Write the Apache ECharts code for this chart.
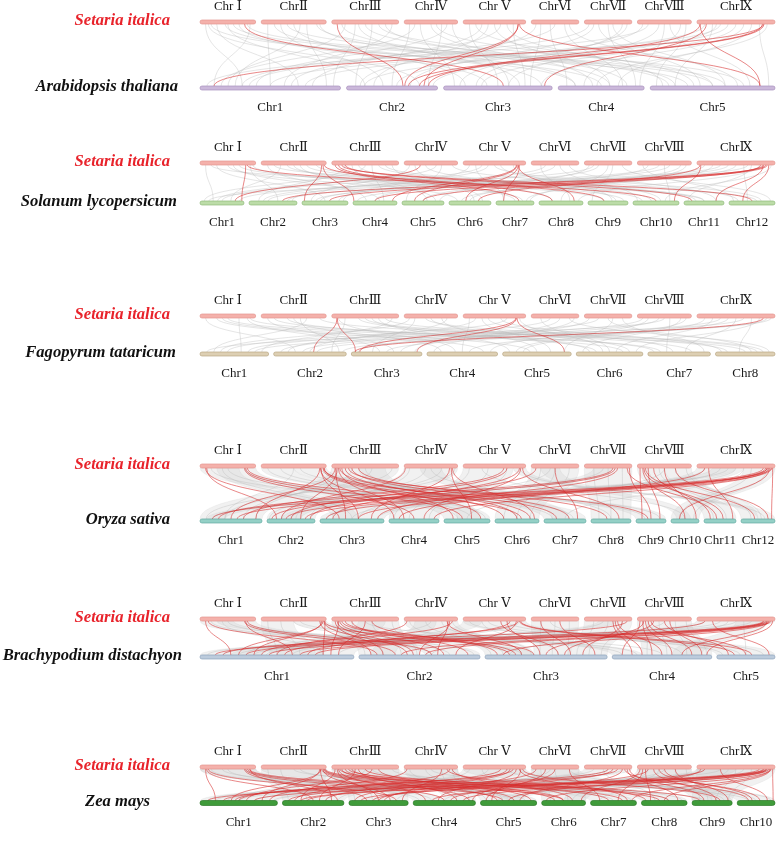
<!DOCTYPE html>
<html><head><meta charset="utf-8">
<script src="https://cdn.jsdelivr.net/npm/echarts@6/dist/echarts.min.js"></script>
<style>html,body{margin:0;padding:0;background:#fff}#c{width:777px;height:856px}</style>
</head><body><div id="c"></div>
<script>
// ---------- data ----------
const setariaLabels = ['Chr Ⅰ','ChrⅡ','ChrⅢ','ChrⅣ','Chr Ⅴ','ChrⅥ','ChrⅦ','ChrⅧ','ChrⅨ'];
const setariaLen = [42.1,49.2,50.6,40.4,47.3,36.0,35.9,40.9,59.0];
const speciesNames = ['Arabidopsis thaliana','Solanum lycopersicum','Fagopyrum tataricum','Oryza sativa','Brachypodium distachyon','Zea mays'];
const athLabels = ['Chr1','Chr2','Chr3','Chr4','Chr5'];
const athLen = [30.4,19.7,23.5,18.6,27.0];
const slLabels = ['Chr1','Chr2','Chr3','Chr4','Chr5','Chr6','Chr7','Chr8','Chr9','Chr10','Chr11','Chr12'];
const slLen = [44,48,46,44,42,42,38,44,40,46,40,46];
const ftLabels = ['Chr1','Chr2','Chr3','Chr4','Chr5','Chr6','Chr7','Chr8'];
const ftLen = [68,72,70,70,68,66,62,59];
const osLabels = ['Chr1','Chr2','Chr3','Chr4','Chr5','Chr6','Chr7','Chr8','Chr9','Chr10','Chr11','Chr12'];
const osLen = [62,48,64,50,46,44,42,40,30,28,32,34];
const bdLabels = ['Chr1','Chr2','Chr3','Chr4','Chr5'];
const bdLen = [75.1,59.1,59.6,48.6,28.4];
const zmLabels = ['Chr1','Chr2','Chr3','Chr4','Chr5','Chr6','Chr7','Chr8','Chr9','Chr10'];
const zmLen = [307,244,235,247,223,174,182,181,159,150];

// links: [setariaChr, relPos, otherChr, relPos]
const redAt = [[1,0.8,3,0.55],[3,0.08,2,0.62],[9,0.85,1,0.1],[5,0.88,2,0.64],[5,0.88,2,0.85],[5,0.9,5,0.88],
  [9,0.04,2,0.9],[9,0.84,2,0.68],[9,0.86,2,0.8],[9,0.04,5,0.88],[9,0.12,3,0.93]];
const grayAt = [[1,0.1,1,0.3],[1,0.3,1,0.7],[1,0.5,2,0.2],[1,0.7,3,0.4],[1,0.9,1,0.1],[1,0.2,4,0.5],[1,0.6,5,0.3],
  [2,0.1,1,0.5],[2,0.3,2,0.4],[2,0.5,3,0.2],[2,0.7,1,0.9],[2,0.9,4,0.2],[2,0.4,5,0.6],
  [3,0.2,1,0.2],[3,0.4,3,0.7],[3,0.6,2,0.1],[3,0.8,4,0.8],[3,0.5,5,0.2],[3,0.9,1,0.6],
  [4,0.1,2,0.5],[4,0.3,3,0.1],[4,0.6,5,0.5],[4,0.8,1,0.4],[4,0.5,4,0.4],
  [5,0.1,3,0.5],[5,0.3,1,0.8],[5,0.5,4,0.6],[5,0.7,5,0.1],[5,0.4,2,0.3],
  [6,0.2,3,0.8],[6,0.5,1,0.3],[6,0.8,5,0.7],[6,0.4,4,0.1],
  [7,0.2,2,0.7],[7,0.5,4,0.9],[7,0.8,3,0.3],[7,0.3,5,0.4],
  [8,0.2,1,0.05],[8,0.4,3,0.6],[8,0.6,5,0.8],[8,0.8,4,0.3],
  [9,0.2,5,0.2],[9,0.4,2,0.2],[9,0.6,3,0.9],[9,0.8,5,0.95],[9,0.3,1,0.5],[9,0.7,4,0.7],
  [1,0.15,2,0.8],[1,0.45,4,0.2],[1,0.85,5,0.5],[2,0.2,3,0.9],[2,0.6,1,0.25],[2,0.85,5,0.15],[3,0.15,4,0.6],[3,0.35,1,0.95],
  [3,0.7,5,0.75],[4,0.2,1,0.15],[4,0.7,2,0.9],[4,0.9,3,0.6],[5,0.2,5,0.35],[5,0.6,1,0.65],[5,0.8,3,0.75],[6,0.1,2,0.15],
  [6,0.7,4,0.75],[7,0.1,1,0.35],[7,0.6,5,0.6],[7,0.9,3,0.15],[8,0.1,2,0.55],[8,0.5,4,0.95],[8,0.9,5,0.05],[9,0.1,1,0.75],
  [9,0.5,3,0.35],[9,0.9,4,0.45],[9,0.25,2,0.95]];
const redSl = [[1,0.82,1,0.95],[1,0.85,10,0.5],[2,0.93,3,0.05],[2,0.95,4,0.02],[2,0.97,9,0.4],
  [3,0.05,7,0.6],[3,0.1,8,0.3],[3,0.2,11,0.2],[3,0.15,12,0.5],
  [5,0.85,4,0.9],[5,0.86,5,0.3],[5,0.88,6,0.4],[5,0.9,7,0.2],[5,0.88,8,0.8],
  [9,0.04,6,0.7],[9,0.82,5,0.5],[9,0.85,3,0.6],[9,0.88,2,0.7],[9,0.9,4,0.5],[9,0.92,12,0.3],[9,0.85,11,0.8],[9,0.05,10,0.9],[4,0.3,1,0.8]];
const graySl = [[1,0.1,1,0.3],[1,0.3,3,0.5],[1,0.5,6,0.2],[1,0.7,9,0.4],[1,0.9,2,0.6],[1,0.2,11,0.5],
  [2,0.1,4,0.3],[2,0.3,1,0.7],[2,0.5,7,0.5],[2,0.7,10,0.2],[2,0.2,12,0.6],[2,0.6,5,0.8],
  [3,0.2,2,0.2],[3,0.4,8,0.3],[3,0.6,4,0.7],[3,0.8,11,0.3],[3,0.5,1,0.1],[3,0.9,6,0.8],
  [4,0.1,3,0.2],[4,0.4,9,0.7],[4,0.7,5,0.1],[4,0.9,12,0.2],
  [5,0.2,7,0.2],[5,0.4,2,0.9],[5,0.6,10,0.6],[5,0.3,1,0.5],
  [6,0.2,8,0.7],[6,0.5,3,0.8],[6,0.8,11,0.8],
  [7,0.3,4,0.5],[7,0.6,9,0.1],[7,0.8,12,0.9],[7,0.2,1,0.9],
  [8,0.2,5,0.5],[8,0.5,10,0.8],[8,0.8,6,0.5],[8,0.4,2,0.4],
  [9,0.2,7,0.8],[9,0.4,3,0.3],[9,0.6,12,0.4],[9,0.8,8,0.9],[9,0.3,1,0.2],[9,0.7,11,0.1],
  [1,0.6,4,0.6],[1,0.95,7,0.7],[2,0.4,9,0.9],[2,0.85,11,0.5],[3,0.3,5,0.6],[3,0.7,10,0.4],[4,0.2,6,0.6],[4,0.6,1,0.4],
  [5,0.1,3,0.9],[5,0.5,12,0.7],[5,0.8,9,0.6],[6,0.3,2,0.3],[6,0.6,10,0.1],[7,0.1,5,0.9],[7,0.5,8,0.5],[8,0.1,12,0.1],
  [8,0.6,3,0.4],[8,0.9,7,0.9],[9,0.1,4,0.1],[9,0.5,6,0.3],[9,0.95,10,0.7],[9,0.65,2,0.8]];
const redFt = [[3,0.08,2,0.55],[3,0.08,3,0.06],[5,0.85,3,0.93],[5,0.86,5,0.9],[9,0.85,3,0.05],[5,0.84,3,0.12]];
const grayFt = [[1,0.1,2,0.3],[1,0.4,5,0.4],[1,0.7,1,0.6],[1,0.9,7,0.2],[1,0.3,4,0.8],
  [2,0.1,3,0.6],[2,0.4,6,0.3],[2,0.7,1,0.2],[2,0.9,8,0.5],[2,0.5,4,0.2],
  [3,0.2,2,0.8],[3,0.4,7,0.7],[3,0.7,5,0.1],[3,0.9,1,0.9],[3,0.5,8,0.2],
  [4,0.2,3,0.3],[4,0.5,6,0.8],[4,0.8,2,0.5],[4,0.4,8,0.8],
  [5,0.1,4,0.5],[5,0.4,7,0.4],[5,0.7,1,0.4],[5,0.3,5,0.7],
  [6,0.2,6,0.5],[6,0.6,3,0.9],[6,0.8,8,0.9],
  [7,0.3,2,0.1],[7,0.6,5,0.9],[7,0.8,7,0.9],
  [8,0.2,4,0.9],[8,0.5,1,0.1],[8,0.8,6,0.1],[8,0.4,3,0.1],
  [9,0.1,5,0.3],[9,0.3,2,0.6],[9,0.5,7,0.6],[9,0.7,8,0.4],[9,0.9,3,0.5],[9,0.6,1,0.8],[9,0.2,6,0.6],
  [1,0.5,6,0.7],[1,0.85,3,0.4],[2,0.2,7,0.1],[2,0.6,2,0.9],[3,0.1,4,0.4],[3,0.6,6,0.2],[3,0.8,8,0.7],[4,0.1,1,0.3],
  [4,0.7,5,0.5],[5,0.2,2,0.2],[5,0.6,8,0.1],[5,0.9,6,0.4],[6,0.4,1,0.7],[6,0.9,4,0.1],[7,0.1,3,0.7],[7,0.5,8,0.6],
  [8,0.1,2,0.4],[8,0.6,7,0.3],[8,0.9,5,0.2],[9,0.4,4,0.6],[9,0.8,6,0.9],[9,0.95,2,0.95]];
const redOs = [[1,0.1,3,0.3],[1,0.8,4,0.5],[1,0.82,5,0.4],[1,0.85,6,0.6],
  [2,0.9,1,0.9],[2,0.92,3,0.6],[2,0.95,5,0.8],[2,0.96,7,0.3],[2,0.97,6,0.2],
  [3,0.05,1,0.5],[3,0.08,2,0.7],[3,0.1,4,0.3],[3,0.15,5,0.2],[3,0.2,6,0.5],[3,0.3,7,0.6],[3,0.4,8,0.4],[3,0.06,3,0.4],
  [4,0.02,2,0.3],[4,0.85,3,0.8],[4,0.9,6,0.9],
  [5,0.65,1,0.7],[5,0.7,2,0.5],[5,0.9,3,0.2],[5,0.92,4,0.7],
  [6,0.1,2,0.9],[6,0.5,7,0.8],
  [7,0.6,1,0.3],[7,0.65,2,0.1],[7,0.7,3,0.9],[7,0.95,9,0.5],
  [8,0.05,9,0.2],[8,0.1,10,0.5],[8,0.12,11,0.6],[8,0.15,12,0.4],[8,0.3,11,0.2],[8,0.5,10,0.9],[8,0.7,12,0.8],
  [9,0.1,4,0.2],[9,0.15,11,0.9],[9,0.85,1,0.2],[9,0.88,2,0.4],[9,0.9,3,0.1],[9,0.92,4,0.9],[9,0.95,1,0.6],[9,0.97,12,0.9],[9,0.93,10,0.3],
  [1,0.12,2,0.2],[2,0.91,4,0.1],[3,0.12,6,0.8],[3,0.25,9,0.4],[4,0.88,5,0.6],[5,0.95,8,0.7],[7,0.9,11,0.4],[8,0.2,9,0.8],[9,0.9,2,0.8],[9,0.96,3,0.6]];
const grayOs = [[1,0.2,5,0.3],[1,0.5,5,0.6],[1,0.8,5,0.9],[1,0.4,3,0.5],[2,0.1,7,0.2],[2,0.3,7,0.7],[2,0.6,9,0.3],[2,0.9,9,0.8],[2,0.5,1,0.4],
  [3,0.1,1,0.9],[3,0.3,1,0.7],[3,0.6,1,0.4],[3,0.9,1,0.1],[3,0.5,6,0.5],[4,0.1,2,0.9],[4,0.4,2,0.6],[4,0.7,2,0.3],[4,0.95,2,0.05],[4,0.5,8,0.5],
  [5,0.1,4,0.1],[5,0.4,4,0.4],[5,0.7,4,0.8],[5,0.9,12,0.7],[5,0.3,10,0.5],[6,0.2,6,0.2],[6,0.5,6,0.5],[6,0.8,6,0.8],[6,0.4,3,0.6],
  [7,0.2,8,0.2],[7,0.5,8,0.5],[7,0.8,8,0.8],[7,0.4,2,0.5],[8,0.2,11,0.3],[8,0.4,11,0.7],[8,0.7,12,0.3],[8,0.9,12,0.6],[8,0.5,5,0.5],
  [9,0.1,3,0.1],[9,0.3,3,0.5],[9,0.5,3,0.9],[9,0.7,10,0.3],[9,0.9,10,0.8],[9,0.6,7,0.5],[9,0.4,1,0.2]];
const redBd = [[1,0.1,1,0.2],[1,0.8,2,0.3],[1,0.82,1,0.6],[1,0.85,2,0.6],
  [2,0.95,1,0.25],[2,0.93,1,0.35],[2,0.98,1,0.8],[2,0.9,2,0.1],[2,0.97,3,0.2],
  [3,0.05,2,0.2],[3,0.08,2,0.45],[3,0.12,2,0.7],[3,0.2,3,0.4],[3,0.3,2,0.9],[3,0.5,1,0.9],[3,0.6,3,0.1],
  [4,0.05,1,0.5],[4,0.8,3,0.3],[4,0.85,2,0.5],[4,0.9,1,0.4],
  [5,0.6,3,0.6],[5,0.75,1,0.7],[5,0.85,2,0.8],[5,0.88,1,0.55],[5,0.9,5,0.3],[5,0.92,5,0.6],
  [6,0.2,3,0.7],[6,0.6,3,0.9],
  [7,0.6,4,0.2],[7,0.7,4,0.5],[7,0.8,3,0.8],[7,0.9,1,0.15],
  [8,0.05,4,0.1],[8,0.1,4,0.4],[8,0.15,4,0.6],[8,0.2,4,0.8],[8,0.3,3,0.5],[8,0.5,5,0.2],[8,0.6,4,0.9],
  [9,0.1,1,0.3],[9,0.2,5,0.9],[9,0.85,1,0.1],[9,0.88,1,0.45],[9,0.9,1,0.65],[9,0.92,2,0.55],[9,0.95,1,0.75],[9,0.97,4,0.95],
  [1,0.15,2,0.15],[2,0.96,2,0.4],[3,0.1,1,0.85],[3,0.15,3,0.25],[4,0.82,2,0.65],[5,0.7,3,0.45],[7,0.65,4,0.3],[8,0.12,3,0.65],
  [8,0.25,5,0.5],[9,0.86,2,0.35],[9,0.93,3,0.15],[9,0.9,4,0.7]];
const grayBd = [[1,0.2,2,0.6],[1,0.5,2,0.75],[1,0.8,2,0.95],[1,0.4,1,0.8],[2,0.1,1,0.5],[2,0.3,1,0.65],[2,0.6,4,0.1],[2,0.9,4,0.25],[2,0.5,3,0.3],
  [3,0.1,2,0.05],[3,0.3,2,0.2],[3,0.6,2,0.35],[3,0.9,2,0.48],[3,0.5,4,0.5],[4,0.1,3,0.05],[4,0.4,3,0.15],[4,0.7,3,0.3],[4,0.9,3,0.38],[4,0.5,1,0.3],
  [5,0.1,5,0.1],[5,0.4,5,0.4],[5,0.7,5,0.8],[5,0.9,1,0.9],[5,0.3,3,0.6],[6,0.2,3,0.45],[6,0.5,3,0.55],[6,0.8,3,0.68],[6,0.4,4,0.7],
  [7,0.2,3,0.75],[7,0.5,3,0.85],[7,0.8,3,0.95],[7,0.4,1,0.6],[8,0.2,4,0.35],[8,0.4,4,0.55],[8,0.7,4,0.75],[8,0.9,4,0.95],[8,0.5,2,0.6],
  [9,0.1,1,0.05],[9,0.3,1,0.15],[9,0.5,1,0.25],[9,0.7,1,0.35],[9,0.9,1,0.43],[9,0.6,5,0.5],[9,0.4,3,0.2]];
const redZm = [[1,0.1,1,0.2],[1,0.12,2,0.5],[1,0.8,3,0.3],[1,0.82,4,0.5],[1,0.85,5,0.4],[1,0.9,2,0.9],
  [2,0.9,1,0.8],[2,0.92,1,0.4],[2,0.95,3,0.7],[2,0.97,6,0.3],[2,0.93,4,0.9],[2,0.98,8,0.4],
  [3,0.05,2,0.3],[3,0.08,3,0.5],[3,0.1,4,0.2],[3,0.15,5,0.6],[3,0.2,6,0.5],[3,0.3,7,0.4],[3,0.4,4,0.7],[3,0.5,8,0.6],[3,0.6,1,0.6],[3,0.7,5,0.9],
  [4,0.05,1,0.9],[4,0.7,3,0.9],[4,0.85,2,0.2],[4,0.9,6,0.7],
  [5,0.6,1,0.5],[5,0.7,2,0.7],[5,0.75,3,0.1],[5,0.85,4,0.4],[5,0.9,7,0.8],[5,0.92,5,0.2],
  [6,0.1,3,0.6],[6,0.5,4,0.95],[6,0.8,7,0.2],
  [7,0.5,1,0.3],[7,0.7,2,0.1],[7,0.8,5,0.7],[7,0.9,8,0.8],[7,0.95,9,0.3],
  [8,0.05,6,0.9],[8,0.1,7,0.6],[8,0.15,8,0.2],[8,0.3,9,0.6],[8,0.5,10,0.4],[8,0.7,9,0.9],
  [9,0.05,5,0.5],[9,0.1,3,0.4],[9,0.3,10,0.8],[9,0.8,1,0.1],[9,0.85,1,0.7],[9,0.88,2,0.4],[9,0.9,3,0.2],[9,0.92,4,0.3],[9,0.95,6,0.1],[9,0.97,10,0.95],[9,0.93,7,0.9],
  [1,0.15,3,0.8],[1,0.88,6,0.5],[2,0.91,2,0.8],[2,0.96,5,0.3],[3,0.12,7,0.7],[3,0.25,9,0.2],[3,0.35,2,0.6],[4,0.8,8,0.1],
  [5,0.8,1,0.45],[5,0.95,9,0.7],[6,0.3,5,0.1],[7,0.6,3,0.5],[7,0.85,10,0.3],[8,0.2,4,0.6],[8,0.4,10,0.6],[9,0.86,2,0.3],[9,0.89,4,0.8],[9,0.94,8,0.5]];
const grayZm = [[1,0.2,4,0.1],[1,0.5,4,0.3],[1,0.8,5,0.8],[1,0.4,5,0.6],[2,0.1,2,0.1],[2,0.3,2,0.4],[2,0.6,7,0.5],[2,0.9,7,0.9],[2,0.5,9,0.3],
  [3,0.1,3,0.1],[3,0.3,3,0.4],[3,0.6,8,0.6],[3,0.9,8,0.9],[3,0.5,1,0.5],[4,0.1,5,0.1],[4,0.4,5,0.4],[4,0.7,4,0.7],[4,0.9,4,0.9],[4,0.5,10,0.3],
  [5,0.1,2,0.7],[5,0.4,2,0.9],[5,0.7,10,0.5],[5,0.9,10,0.9],[5,0.3,6,0.3],[6,0.2,6,0.2],[6,0.5,6,0.6],[6,0.8,9,0.8],[6,0.4,3,0.8],
  [7,0.2,1,0.1],[7,0.5,1,0.2],[7,0.8,1,0.35],[7,0.4,8,0.3],[8,0.2,6,0.7],[8,0.4,6,0.9],[8,0.7,9,0.2],[8,0.9,9,0.4],[8,0.5,4,0.5],
  [9,0.1,1,0.5],[9,0.3,1,0.7],[9,0.5,9,0.6],[9,0.7,9,0.9],[9,0.9,1,0.95],[9,0.6,5,0.5],[9,0.4,7,0.2]];
// collinear blocks: [setariaChr, start, end, otherChr, start, end]
const blockOs = [[1,0,1,5,0,1],[2,0,0.5,7,0,1],[2,0.5,1,9,0,1],[3,0,1,1,0,1],[4,0,1,2,0,1],[5,0,0.8,4,0,1],[5,0.8,1,12,0.5,1],
  [6,0,1,6,0,1],[7,0,1,8,0,1],[8,0,0.5,11,0,1],[8,0.5,1,12,0,0.5],[9,0,0.6,3,0,1],[9,0.6,1,10,0,1],
  [1,0.3,0.7,3,0.2,0.6],[3,0.4,0.8,5,0.3,0.8],[7,0.2,0.6,2,0.3,0.7],[9,0.2,0.5,1,0.1,0.4],[4,0.3,0.7,7,0.2,0.6],[6,0.2,0.6,10,0.2,0.7]];
const blockBd = [[1,0,1,2,0.55,1],[3,0,1,2,0,0.5],[9,0,1,1,0,0.45],[2,0,0.5,1,0.45,0.75],[2,0.5,1,4,0,0.3],[4,0,1,3,0,0.4],
  [6,0,1,3,0.4,0.7],[7,0,1,3,0.7,1],[8,0,1,4,0.3,1],[5,0,1,5,0,1],[5,0,0.3,1,0.75,1],
  [3,0.4,0.8,1,0.5,0.8],[7,0.3,0.7,1,0.2,0.4],[1,0.3,0.6,3,0.2,0.4],[9,0.5,0.9,4,0.6,0.9],[4,0.2,0.6,2,0.1,0.3]];
const blockZm = [[1,0,1,4,0,0.5],[1,0,1,5,0.5,1],[2,0,1,2,0,0.6],[2,0,1,7,0,1],[3,0,1,3,0,1],[3,0,1,8,0,1],
  [4,0,1,5,0,0.5],[4,0,1,4,0.5,1],[5,0,1,2,0.6,1],[5,0,1,10,0,1],[6,0,1,6,0,1],[6,0,1,9,0.5,1],
  [7,0,1,1,0,0.4],[8,0,1,6,0.5,1],[8,0,1,9,0,0.5],[9,0,1,1,0.4,1],[9,0,1,9,0,1],[9,0,0.5,5,0.3,0.7]];

// ---------- layout ----------
const topY = [22,163,316,466,619,767];
const botY = [88,203,354,521,657,803];
const botLens = [athLen, slLen, ftLen, osLen, bdLen, zmLen];
const botLabels = [athLabels, slLabels, ftLabels, osLabels, bdLabels, zmLabels];
const botGap = [6,5,5,5,5,5];
const botColors = [
  {fill:'#cbb8da', stroke:'#a891bd'}, {fill:'#bcdca8', stroke:'#8fba7a'}, {fill:'#ddcfb3', stroke:'#b9a784'},
  {fill:'#94d0c6', stroke:'#62aaa0'}, {fill:'#bccbdc', stroke:'#8ea3bb'}, {fill:'#3f9b3a', stroke:'#2d7a28'}];
const botH = [4,4,4,4,4,5];
const topColor = {fill:'#f4b1ab', stroke:'#e49790'};
const SPAN = 575;
function layoutRow(len, gapPx){
  const n = len.length, total = len.reduce((a,b)=>a+b,0), gf = gapPx/SPAN;
  const k = (1 - gf*(n-1))/total; let s = 0;
  return len.map(l => { const a = s; s += l*k + gf; return [a, a + l*k]; });
}
const topLayout = layoutRow(setariaLen, 5.5);
const botLayouts = botLens.map((l,i)=>layoutRow(l, botGap[i]));

const barData = [];
for (let p=0;p<6;p++){
  setariaLen.forEach((_,i)=>barData.push([p,0,i]));
  botLens[p].forEach((_,i)=>barData.push([p,1,i]));
}
const reds = [redAt, redSl, redFt, redOs, redBd, redZm];
const grays = [grayAt, graySl, grayFt, grayOs, grayBd, grayZm];
const blocks = [[], [], [], blockOs, blockBd, blockZm];
const redData = [], grayData = [], blockData = [];
reds.forEach((arr,p)=>arr.forEach(d=>redData.push([p].concat(d))));
grays.forEach((arr,p)=>arr.forEach(d=>grayData.push([p].concat(d))));
blocks.forEach((arr,p)=>arr.forEach(d=>blockData.push([p].concat(d))));

function xTop(c, r){ const l = topLayout[c-1]; return l[0] + (l[1]-l[0])*r; }
function xBot(p, c, r){ const l = botLayouts[p][c-1]; return l[0] + (l[1]-l[0])*r; }
function bz(a, b, t){
  const m = (a[1]+b[1])/2, u = 1-t;
  const x = u*u*u*a[0] + 3*u*u*t*a[0] + 3*u*t*t*b[0] + t*t*t*b[0];
  const y = u*u*u*a[1] + 3*u*u*t*m + 3*u*t*t*m + t*t*t*b[1];
  return [x,y];
}
function renderLink(color, width){
  return function(params, api){
    const p = api.value(0);
    const a = api.coord([xTop(api.value(1), api.value(2)), topY[p]+2]);
    const b = api.coord([xBot(p, api.value(3), api.value(4)), botY[p]-2]);
    const m = (a[1]+b[1])/2;
    return {type:'bezierCurve', shape:{x1:a[0],y1:a[1],x2:b[0],y2:b[1],cpx1:a[0],cpy1:m,cpx2:b[0],cpy2:m},
      style:{stroke:color, fill:'none', lineWidth:width}, silent:true};
  };
}
function renderBlock(params, api){
  const p = api.value(0);
  const tc = api.value(1), bc = api.value(4);
  const a0 = api.coord([xTop(tc, api.value(2)), topY[p]+2]);
  const a1 = api.coord([xTop(tc, api.value(3)), topY[p]+2]);
  const b0 = api.coord([xBot(p, bc, api.value(5)), botY[p]-2]);
  const b1 = api.coord([xBot(p, bc, api.value(6)), botY[p]-2]);
  const pts = [];
  for (let i=0;i<=24;i++) pts.push(bz(a0,b0,i/24));
  for (let i=24;i>=0;i--) pts.push(bz(a1,b1,i/24));
  return {type:'polygon', shape:{points:pts}, style:{fill:'rgba(200,200,200,0.26)', stroke:'rgba(190,190,190,0.3)', lineWidth:0.5}, silent:true};
}
function renderBar(params, api){
  const p = api.value(0), side = api.value(1), i = api.value(2);
  const lay = side===0 ? topLayout[i] : botLayouts[p][i];
  const y = side===0 ? topY[p] : botY[p];
  const a = api.coord([lay[0], y]), b = api.coord([lay[1], y]);
  const h = side===0 ? 4 : botH[p];
  const col = side===0 ? topColor : botColors[p];
  const label = side===0 ? setariaLabels[i] : botLabels[p][i];
  return {type:'group', children:[
    {type:'rect', shape:{x:a[0], y:a[1]-h/2, width:b[0]-a[0], height:h, r:h/2}, style:{fill:col.fill, stroke:col.stroke, lineWidth:0.7}},
    {type:'text', style:{text:label, x:(a[0]+b[0])/2, y: side===0 ? a[1]-15 : a[1]+20, align:'center', verticalAlign:'middle',
      font:'13px "Liberation Serif", "DejaVu Serif", serif', fill:'#1a1a1a'}}
  ]};
}

const speciesX = [178,177,176,170,182,150];
const graphic = [];
for (let p=0;p<6;p++){
  graphic.push({type:'text', right: 777-170, top: topY[p]-10, style:{text:'Setaria italica', fill:'#e8232b',
    font:'bold italic 16.6px "Liberation Serif", "DejaVu Serif", serif'}});
  graphic.push({type:'text', right: 777-speciesX[p], top: botY[p]-10, style:{text:speciesNames[p], fill:'#111',
    font:'bold italic 16.6px "Liberation Serif", "DejaVu Serif", serif'}});
}

const chart = echarts.init(document.getElementById('c'));
chart.setOption({
  animation:false,
  grid:{left:200, right:2, top:0, bottom:0},
  xAxis:{type:'value', min:0, max:1, show:false},
  yAxis:{type:'value', min:0, max:856, inverse:true, show:false},
  graphic: graphic,
  series:[
    {type:'custom', clip:false, data:blockData, renderItem:renderBlock, z:1},
    {type:'custom', clip:false, data:grayData, renderItem:renderLink('rgba(185,185,185,0.42)', 0.9), z:2},
    {type:'custom', clip:false, data:redData, renderItem:renderLink('rgba(215,45,45,0.68)', 0.85), z:3},
    {type:'custom', clip:false, data:barData, renderItem:renderBar, z:4}
  ]
});
</script>
</body></html>
